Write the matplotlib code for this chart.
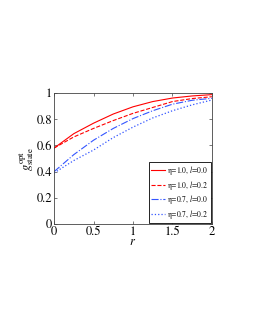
import matplotlib
matplotlib.use('Agg')
import matplotlib.pyplot as plt

matplotlib.rcParams['font.family'] = 'STIXGeneral'
matplotlib.rcParams['mathtext.fontset'] = 'stix'

r = [0, 0.25, 0.5, 0.75, 1.0, 1.25, 1.5, 1.75, 2.0]
g_eta10_l00 = [0.58, 0.69, 0.77, 0.84, 0.895, 0.935, 0.962, 0.978, 0.988]
g_eta10_l02 = [0.58, 0.665, 0.73, 0.79, 0.845, 0.89, 0.935, 0.958, 0.972]
g_eta07_l00 = [0.40, 0.53, 0.64, 0.73, 0.805, 0.865, 0.915, 0.945, 0.96]
g_eta07_l02 = [0.39, 0.485, 0.565, 0.66, 0.74, 0.81, 0.865, 0.91, 0.947]

fig = plt.figure(figsize=(2.55, 3.3), dpi=100)
ax = fig.add_axes([0.212, 0.321, 0.619, 0.397])

ax.plot(r, g_eta10_l00, '-', color='red', linewidth=0.8, label=r'η=1.0, $l$=0.0')
ax.plot(r, g_eta10_l02, '--', color='red', linewidth=0.8, label=r'η=1.0, $l$=0.2')
ax.plot(r, g_eta07_l00, '-.', color='#3355ff', linewidth=0.8, label=r'η=0.7, $l$=0.0')
ax.plot(r, g_eta07_l02, ':', color='#3355ff', linewidth=0.9, label=r'η=0.7, $l$=0.2')

ax.set_xlim(0, 2)
ax.set_ylim(0, 1)
ax.set_xticks([0, 0.5, 1, 1.5, 2])
ax.set_xticklabels(['0', '0.5', '1', '1.5', '2'])
ax.set_yticks([0, 0.2, 0.4, 0.6, 0.8, 1])
ax.set_yticklabels(['0', '0.2', '0.4', '0.6', '0.8', '1'])
ax.tick_params(direction='in', top=True, right=True, labelsize=9, length=2.5,
               width=0.5, pad=1.5, colors='#444444', labelcolor='black')
for s in ax.spines.values():
    s.set_linewidth(0.6)
    s.set_color('#444444')

ax.set_xlabel(r'$r$', fontsize=9, labelpad=-1)
ax.set_ylabel(r'$g_{\rm state}^{\rm opt}$', fontsize=9, labelpad=0)

legend = ax.legend(loc='lower right', fontsize=5.5, handlelength=1.8,
                   handletextpad=0.3, borderpad=0.3, labelspacing=0.2,
                   borderaxespad=0.15, fancybox=False, framealpha=1)
frame = legend.get_frame()
frame.set_edgecolor('black')
frame.set_linewidth(0.6)

plt.savefig('out.png', dpi=100)
